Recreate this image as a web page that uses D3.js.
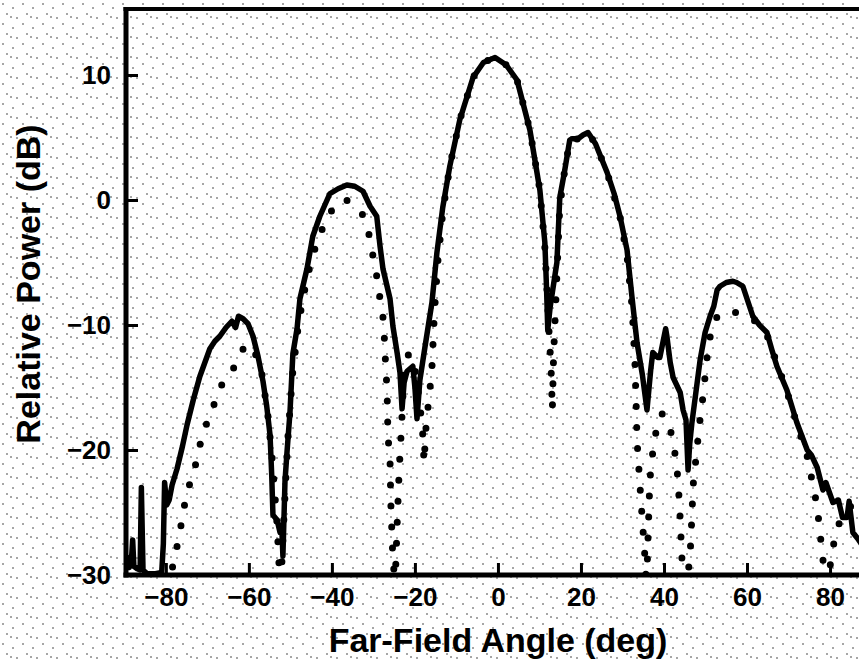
<!DOCTYPE html>
<html>
<head>
<meta charset="utf-8">
<script src="https://cdn.jsdelivr.net/npm/d3@7"></script>
<style>
  html, body { margin: 0; padding: 0; background: #ffffff; }
  svg { display: block; }
  text { font-family: "Liberation Sans", Arial, Helvetica, sans-serif; font-weight: bold; fill: #000; }
</style>
</head>
<body>
<svg id="chart" width="859" height="659"></svg>
<script>
// ---------------- data ----------------
const angleTicks = [-80, -60, -40, -20, 0, 20, 40, 60, 80];
const angleTickLabels = ["\u221280", "\u221260", "\u221240", "\u221220", "0", "20", "40", "60", "80"];
const powerTicks = [-30, -20, -10, 0, 10];
const powerTickLabels = ["\u221230", "\u221220", "\u221210", "0", "10"];
const xTitle = "Far-Field Angle (deg)";
const yTitle = "Relative Power (dB)";

// measured far-field (solid line)
const measuredAngle = [
  -89.6, -89.2, -88.8, -88.3, -88.0, -87.7, -86.9, -86.2, -85.9, -85.5,
  -84.5, -82.5, -81.0, -80.6, -80.3, -79.8, -79.2, -78.5, -77.3, -76.0,
  -74.9, -73.4, -71.8, -70.6, -69.4, -68.2, -67.0, -65.5, -64.1, -63.2,
  -62.5, -61.4, -60.2, -59.0, -57.8, -56.6, -55.7, -54.9, -54.5, -54.2,
  -53.2, -52.5, -52.1, -51.8, -51.3, -50.8, -50.1, -49.4, -48.4, -47.7,
  -46.0, -44.6, -42.9, -40.5, -38.5, -36.4, -34.5, -32.5, -30.8, -29.2,
  -28.4, -27.7, -26.0, -25.3, -24.3, -23.6, -23.1, -22.6, -21.9, -20.5,
  -20.0, -19.5, -18.8, -17.6, -15.9, -14.7, -13.3, -11.6, -9.2, -6.0,
  -3.5, -0.7, 2.0, 4.6, 7.7, 10.1, 11.3, 11.7, 12.0, 12.6,
  14.2, 14.9, 16.0, 17.3, 17.8, 19.3, 20.5, 21.7, 23.5, 26.3,
  28.0, 29.4, 31.1, 32.3, 33.5, 34.8, 35.9, 36.8, 37.3, 38.5,
  39.0, 40.4, 40.7, 41.5, 42.2, 43.9, 44.6, 45.3, 45.8, 46.2,
  46.7, 48.7, 49.9, 51.1, 52.0, 52.8, 53.5, 55.0, 56.6, 57.5,
  59.0, 61.4, 63.0, 64.8, 66.0, 67.2, 69.6, 72.0, 74.5, 75.5,
  76.9, 78.3, 79.0, 80.7, 82.0, 83.0, 84.1, 84.6, 85.5, 86.7, 87.5
];
const measuredPower = [
  -29.6, -28.6, -29.4, -28.9, -27.2, -29.3, -29.5, -29.6, -23.0, -29.6,
  -29.9, -29.9, -29.8, -27.5, -22.6, -24.4, -24.0, -22.8, -21.5, -19.7,
  -18.0, -16.0, -14.1, -13.0, -11.9, -11.3, -10.9, -10.2, -9.7, -10.2,
  -9.3, -9.5, -9.9, -10.9, -12.5, -14.5, -16.5, -18.8, -22.0, -25.2,
  -25.6, -26.6, -26.0, -28.5, -22.5, -20.1, -17.0, -12.3, -10.3, -7.9,
  -5.5, -2.9, -1.3, 0.5, 0.9, 1.2, 1.1, 0.7, -0.5, -1.3,
  -3.7, -5.5, -7.9, -10.1, -12.2, -13.8, -16.7, -14.6, -13.7, -13.3,
  -15.0, -17.5, -14.4, -11.8, -8.2, -4.2, -0.6, 2.7, 6.4, 9.8,
  11.0, 11.4, 10.8, 9.6, 5.6, 0.8, -3.4, -7.0, -10.4, -8.5,
  -5.0, 0.2, 2.2, 4.8, 4.9, 4.9, 5.2, 5.4, 4.5, 2.2,
  0.5, -1.3, -4.0, -7.8, -11.4, -14.0, -16.8, -13.6, -12.2, -12.6,
  -12.6, -10.3, -10.9, -13.0, -14.2, -15.4, -16.8, -17.6, -21.6, -19.5,
  -17.9, -12.8, -10.6, -9.3, -8.5, -7.2, -6.9, -6.6, -6.5, -6.6,
  -6.9, -9.3, -10.0, -10.6, -12.0, -13.3, -15.2, -17.8, -20.0, -20.4,
  -21.4, -23.2, -22.6, -24.2, -24.0, -25.4, -25.4, -24.1, -26.6, -27.1, -27.5
];

// calculated far-field (dotted line)
const theoryAngle = [
  -79.5, -77.8, -76.6, -75.9, -74.7, -73.0, -71.8, -70.1, -68.2, -66.3,
  -62.7, -61.0, -59.0, -57.0, -55.5, -54.3, -53.2, -52.4, -51.5, -50.6,
  -49.5, -48.0, -46.0, -43.5, -40.5, -36.9, -32.8, -31.1, -29.2, -28.4,
  -27.5, -27.3, -27.0, -26.7, -26.5, -26.0, -25.8, -25.4, -24.8, -24.2,
  -23.8, -23.2, -22.6, -21.5, -20.5, -19.5, -18.2, -17.8, -17.3, -16.4,
  -15.9, -15.3, -14.5, -13.3, -11.6, -9.2, -6.0, -3.5, -0.7, 2.0,
  4.6, 7.7, 10.1, 11.3, 12.3, 12.8, 13.1, 13.4, 14.2, 14.9,
  16.0, 17.3, 19.3, 21.7, 23.5, 26.3, 29.4, 31.1, 32.3, 33.0,
  33.3, 33.5, 34.2, 34.9, 35.4, 35.8, 36.2, 36.6, 37.1, 37.8,
  39.5, 41.0, 42.2, 43.1, 43.5, 43.9, 44.3, 45.3, 46.3, 46.7,
  47.0, 48.7, 49.4, 50.5, 51.5, 53.0, 55.9, 58.5, 61.4, 64.8,
  69.6, 72.0, 74.5, 76.9, 78.1, 79.2, 80.5, 82.5, 85.0, 87.5
];
const theoryPower = [
  -31.0, -28.5, -26.6, -25.0, -23.2, -21.4, -19.6, -17.8, -16.2, -14.6,
  -13.0, -11.6, -11.8, -13.6, -17.0, -21.0, -26.0, -31.5, -25.0, -19.0,
  -14.0, -9.8, -6.2, -3.2, -1.0, 0.1, -1.0, -2.7, -6.1, -7.9,
  -9.8, -11.6, -13.5, -15.3, -18.9, -20.8, -24.3, -27.9, -31.0, -25.2,
  -21.7, -17.9, -13.5, -12.3, -12.6, -14.5, -18.2, -21.0, -18.0, -15.2,
  -13.4, -9.0, -5.0, -1.0, 2.7, 6.4, 9.8, 11.0, 11.4, 10.8,
  9.6, 5.6, 0.8, -3.8, -10.5, -13.5, -16.8, -12.5, -6.0, -0.5,
  2.2, 4.8, 4.9, 5.4, 4.5, 2.2, -1.3, -4.5, -8.5, -13.0,
  -16.4, -19.2, -22.8, -26.2, -28.5, -31.0, -26.5, -22.4, -20.7, -18.9,
  -17.1, -17.7, -19.3, -21.3, -23.1, -25.5, -28.6, -31.5, -28.3, -25.5,
  -22.9, -17.5, -15.7, -12.2, -10.2, -9.2, -8.9, -9.1, -9.5, -10.8,
  -15.3, -17.9, -20.5, -24.5, -28.2, -31.5, -28.0, -25.5, -24.5, -24.5
];

const measured = measuredAngle.map((a, i) => ({ a, p: measuredPower[i] }));
const theory = theoryAngle.map((a, i) => ({ a, p: theoryPower[i] }));

// ---------------- layout ----------------
const svg = d3.select("#chart");
const W = 859, H = 659;
const mLeft = 126, mRight = 862, mTop = 9, mBottom = 575;

const x = d3.scaleLinear().domain([-89.6, 87.7]).range([mLeft, mRight]);
const y = d3.scaleLinear().domain([-30, 15.28]).range([mBottom, mTop]);

// stippled paper background
const defs = svg.append("defs");
const pat = defs.append("pattern")
  .attr("id", "stipple").attr("patternUnits", "userSpaceOnUse")
  .attr("width", 20).attr("height", 20);
[[3, 4], [13, 8], [7, 14], [17, 18], [11, 17]].forEach(([cx, cy]) => {
  pat.append("circle").attr("cx", cx).attr("cy", cy).attr("r", 0.8).attr("fill", "#333");
});
svg.append("rect").attr("width", W).attr("height", H).attr("fill", "#ffffff");
svg.append("rect").attr("width", W).attr("height", H).attr("fill", "url(#stipple)");

defs.append("clipPath").attr("id", "plotclip")
  .append("rect").attr("x", mLeft).attr("y", mTop).attr("width", mRight - mLeft).attr("height", mBottom - mTop);

const plot = svg.append("g").attr("clip-path", "url(#plotclip)");

const line = d3.line().x(d => x(d.a)).y(d => y(d.p)).curve(d3.curveLinear);

// dotted theory curve
plot.append("path")
  .datum(theory)
  .attr("d", line)
  .attr("fill", "none")
  .attr("stroke", "#000")
  .attr("stroke-width", 7)
  .attr("stroke-linecap", "round")
  .attr("stroke-dasharray", "0 21");

// solid measured curve
plot.append("path")
  .datum(measured)
  .attr("d", line)
  .attr("fill", "none")
  .attr("stroke", "#000")
  .attr("stroke-width", 5.5)
  .attr("stroke-linejoin", "round");

// ---------------- axes ----------------
const xAxis = d3.axisBottom(x)
  .tickValues(angleTicks)
  .tickSize(-12)
  .tickSizeOuter(0)
  .tickPadding(13)
  .tickFormat((d, i) => angleTickLabels[i]);
const gx = svg.append("g").attr("transform", `translate(0,${mBottom})`).call(xAxis);
gx.select(".domain").remove();
gx.selectAll(".tick line").attr("stroke", "#000").attr("stroke-width", 3);
gx.selectAll(".tick text").style("font-size", "26px").attr("fill", "#000");

const yAxis = d3.axisLeft(y)
  .tickValues(powerTicks)
  .tickSize(-12)
  .tickSizeOuter(0)
  .tickPadding(15)
  .tickFormat((d, i) => powerTickLabels[i]);
const gy = svg.append("g").attr("transform", `translate(${mLeft},0)`).call(yAxis);
gy.select(".domain").remove();
gy.selectAll(".tick line").attr("stroke", "#000").attr("stroke-width", 3);
gy.selectAll(".tick text").style("font-size", "26px").attr("fill", "#000");

// frame (left, top, bottom)
svg.append("line").attr("x1", mLeft).attr("x2", mLeft).attr("y1", mTop - 2).attr("y2", mBottom + 2.5)
  .attr("stroke", "#000").attr("stroke-width", 5);
svg.append("line").attr("x1", mLeft - 2.5).attr("x2", W).attr("y1", mTop).attr("y2", mTop)
  .attr("stroke", "#000").attr("stroke-width", 4);
svg.append("line").attr("x1", mLeft - 2.5).attr("x2", W).attr("y1", mBottom).attr("y2", mBottom)
  .attr("stroke", "#000").attr("stroke-width", 5);

// titles
svg.append("text")
  .attr("x", 498).attr("y", 652)
  .attr("text-anchor", "middle")
  .style("font-size", "34px")
  .text(xTitle);

svg.append("text")
  .attr("transform", "translate(40,284) rotate(-90)")
  .attr("text-anchor", "middle")
  .style("font-size", "34px")
  .text(yTitle);
</script>
</body>
</html>
